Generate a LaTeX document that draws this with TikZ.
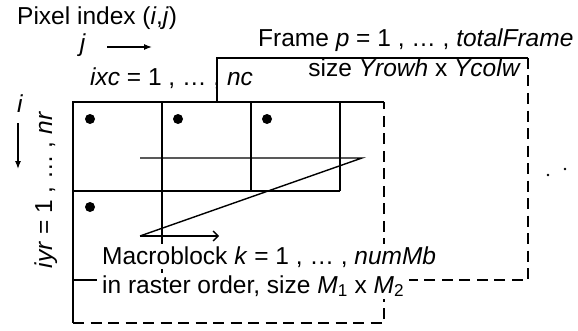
\documentclass[tikz,border=0pt]{standalone}
\usepackage{fontspec}
\setmainfont{Liberation Sans}
\usetikzlibrary{arrows.meta}
\tikzset{
  figfont/.style={font=\fontsize{24.5}{29}\selectfont},
  figline/.style={line width=1.8pt},
  figdash/.style={figline, dash pattern=on 11pt off 6.5pt},
  figscan/.style={line width=1.4pt},
  figlabel/.style={inner sep=0pt},
  figmask/.style={fill=white, inner xsep=5pt, inner ysep=2pt},
  figarrow/.style={-{Latex[length=8pt,width=6pt]}, line width=1.2pt},
  figscanarrow/.style={figscan, -{Straight Barb[length=5pt,width=10pt]}},
}

\begin{document}
\begin{tikzpicture}[x=1pt, y=1pt, figfont]
		\useasboundingbox (0,0) rectangle (578,330);

		% Frame behind: only top and right side show
		\draw[figline] (217,229) -- (217,272) -- (528,272);
		\draw[figdash] (528,272) -- (528,50) -- (384,50);

		% Front frame
		\draw[figline] (384,228) -- (73,228) -- (73,7);
		\draw[figdash] (73,7) -- (384,7) -- (384,228);

		% Macroblock grid
		\draw[figline] (162,228) -- (162,50);
		\draw[figline] (251,228) -- (251,139);
		\draw[figline] (340,228) -- (340,139);
		\draw[figline] (73,139) -- (340,139);
		\draw[figline] (73,50) -- (162,50);

		% Raster scan path
		\coordinate (scanA) at (140,172);
		\coordinate (scanB) at (362,172);
		\coordinate (scanC) at (140,94);
		\coordinate (scanD) at (219,94);
		\draw[figscan] (scanA) -- (scanB) -- (scanC);
		\draw[figscanarrow] (scanC) -- (scanD);

		% First pixel of each macroblock
		\fill (90,211) circle (5pt);
		\fill (178,211) circle (5pt);
		\fill (267,211) circle (5pt);
		\fill (90,123) circle (5pt);

		% Index labels and directions
		\node[figlabel, anchor=base west] (pixidx) at (17,305) {Pixel index (\textit{i},\textit{j})};
		\node[figlabel, anchor=base] (jlbl) at (83,278) {\textit{j}};
		\coordinate (jfrom) at (107,283);
		\coordinate (jto) at (152,283);
		\draw[figarrow] (jfrom) -- (jto);
		\node[figlabel, anchor=base] (ilbl) at (20,218) {\textit{i}};
		\coordinate (ifrom) at (18,207);
		\coordinate (ito) at (18,161);
		\draw[figarrow] (ifrom) -- (ito);
		\node[figlabel, anchor=base, rotate=90] (rowrange) at (52,140) {\textit{iyr} = 1 , … , \textit{nr}};
		\node[figlabel, anchor=base west] (colrange) at (90,244) {\textit{ixc} = 1 , … , \textit{nc}};

		% Frame labels
		\node[figlabel, anchor=base west] (framerange) at (258,283) {Frame \textit{p} = 1 , … , \textit{totalFrame}};
		\node[figlabel, anchor=base east] (framesize) at (521,253) {size \textit{Yrowh} x \textit{Ycolw}};

		% Macroblock labels
		\node[figmask, anchor=base west] (mbrange) at (97,66) {Macroblock \textit{k} = 1 , … , \textit{numMb}};
		\node[figmask, anchor=base west] (mbsize) at (97,37) {in raster order, size \textit{M}\textsubscript{1} x \textit{M}\textsubscript{2}};

		% More frames follow
		\fill (548,155) circle (1.3pt);
		\fill (565,161) circle (1.3pt);
	\end{tikzpicture}
\end{document}
